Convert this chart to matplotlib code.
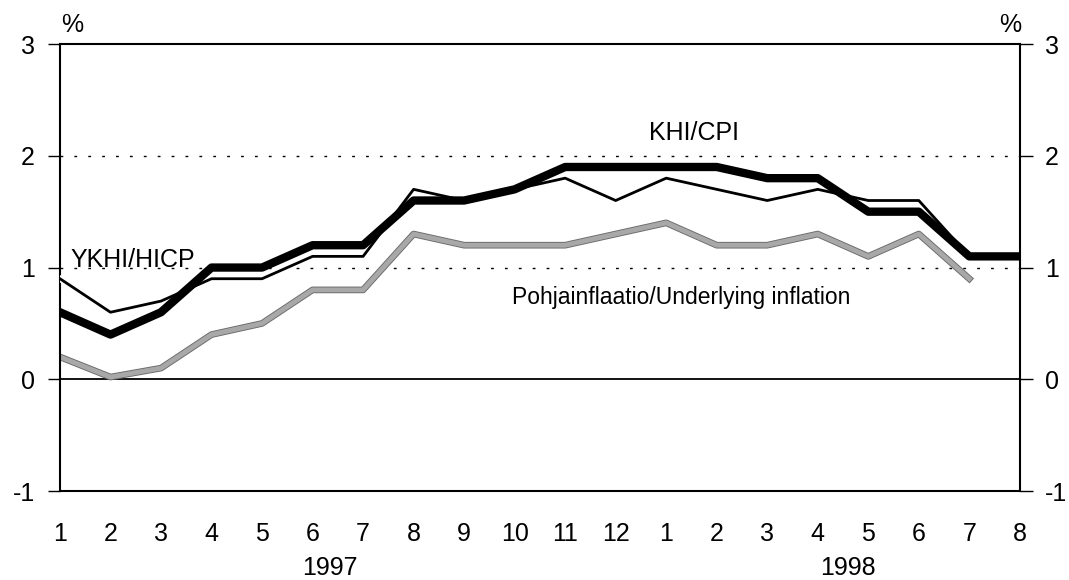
import numpy as np
import matplotlib
matplotlib.use('Agg')
import matplotlib.pyplot as plt
import matplotlib.patheffects as pe

plt.rcParams['font.family'] = ['Liberation Sans Narrow', 'Liberation Sans', 'DejaVu Sans']

months = ['1', '2', '3', '4', '5', '6', '7', '8', '9', '10', '11', '12',
          '1', '2', '3', '4', '5', '6', '7', '8']
cpi = [0.6, 0.4, 0.6, 1.0, 1.0, 1.2, 1.2, 1.6, 1.6, 1.7, 1.9, 1.9,
       1.9, 1.9, 1.8, 1.8, 1.5, 1.5, 1.1, 1.1]
hicp = [0.9, 0.6, 0.7, 0.9, 0.9, 1.1, 1.1, 1.7, 1.6, 1.7, 1.8, 1.6,
        1.8, 1.7, 1.6, 1.7, 1.6, 1.6, 1.1, 1.1]
underlying = [0.2, 0.02, 0.1, 0.4, 0.5, 0.8, 0.8, 1.3, 1.2, 1.2, 1.2, 1.3,
              1.4, 1.2, 1.2, 1.3, 1.1, 1.3, 0.9, np.nan]

x = np.arange(len(months))

fig = plt.figure(figsize=(10.69, 5.8), dpi=100)
ax = fig.add_axes([0.0561, 0.1534, 0.8979, 0.7706])

ax.axhline(0, color='black', lw=1.3, zorder=1)
for yv in [1, 2]:
    ax.axhline(yv, color='black', lw=1, ls=(0, (2, 8)), zorder=1)

ax.plot(x, underlying, color='#a8a8a8', lw=3.5, zorder=2,
        path_effects=[pe.Stroke(linewidth=4.8, foreground='#6a6a6a'), pe.Normal()])
ax.plot(x, hicp, color='black', lw=2, zorder=3,
        path_effects=[pe.Stroke(linewidth=4.5, foreground='white'), pe.Normal()])
ax.plot(x, cpi, color='black', lw=6, zorder=4)

ax.set_xlim(0, len(months) - 1)
ax.set_ylim(-1, 3)
ax.set_xticks(x)
ax.set_xticklabels(months)
ax.set_yticks([-1, 0, 1, 2, 3])
ax.set_yticklabels(['-1', '0', '1', '2', '3'])
ax.tick_params(axis='x', length=0, pad=22, labelsize=18)
ax.tick_params(axis='y', length=9, width=1, direction='out', labelsize=18, pad=9,
               left=True, right=True, labelleft=True, labelright=True)
for s in ax.spines.values():
    s.set_linewidth(1.5)

ax.text(5.35, -1.69, '1997', ha='center', va='center', fontsize=18)
ax.text(15.6, -1.69, '1998', ha='center', va='center', fontsize=18)
ax.text(0.24, 3.17, '%', ha='center', va='center', fontsize=18)
ax.text(18.8, 3.17, '%', ha='center', va='center', fontsize=18)

ax.text(12.55, 2.2, 'KHI/CPI', ha='center', va='center', fontsize=18)
ax.text(0.2, 1.065, 'YKHI/HICP', ha='left', va='center', fontsize=18)
ax.text(8.95, 0.735, 'Pohjainflaatio/Underlying inflation', ha='left', va='center', fontsize=16.5)

fig.savefig('out.png', dpi=100)
